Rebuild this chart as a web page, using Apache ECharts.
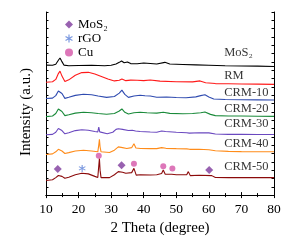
<!DOCTYPE html>
<html><head><meta charset="utf-8">
<script src="https://cdn.jsdelivr.net/npm/echarts@6/dist/echarts.min.js"></script>
<style>html,body{margin:0;padding:0;background:#fff}#c{width:290px;height:241px}</style>
</head><body><div id="c"></div>
<script>
const FONT = 'Liberation Serif';
const xTicks = [10, 20, 30, 40, 50, 60, 70, 80];
const yTitle = 'Intensity (a.u.)';
const seriesNames = ['MoS₂', 'RM', 'CRM-10', 'CRM-20', 'CRM-30', 'CRM-40', 'CRM-50'];
const seriesColors = ['#000000', '#ff1a1a', '#2f4bb0', '#1a8a3a', '#6a48bf', '#ff8c1a', '#8b0a0a'];

const mos2 = [[10,15.62],[12,15.6],[13,15.72],[13.8,16.2],[14.3,16.48],[14.8,16.1],[15.5,15.62],[17,15.55],[20,15.58],[24,15.6],[28,15.55],[30,15.6],[31.5,15.75],[32.5,15.95],[33.2,16.12],[34,15.9],[35,16.0],[36,15.8],[38,15.78],[40,15.88],[42,15.82],[44,15.75],[46.5,15.95],[48,15.75],[52,15.7],[56,15.65],[60,15.6],[65,15.55],[70,15.52],[75,15.5],[80,15.45]];
const rm = [[10,13.55],[12,13.62],[13,13.9],[13.8,14.6],[14.3,14.9],[14.9,14.3],[15.8,13.65],[17,13.85],[19,14.4],[21,14.72],[23,14.75],[25,14.55],[27,14.25],[29,13.95],[31,13.72],[32.5,13.8],[33.3,13.95],[34.5,13.75],[36,13.82],[38,13.8],[40,13.75],[42,13.83],[45,13.7],[50,13.62],[55,13.6],[57.3,13.72],[59,13.5],[62,13.4],[66,13.38],[70,13.35],[75,13.33],[80,13.3]];
const crm10 = [[10,11.6],[12,11.65],[13,11.95],[13.8,12.5],[14.3,12.72],[14.9,12.2],[15.8,11.62],[17,11.75],[19,11.98],[21.5,12.12],[24,12.05],[26,11.9],[28.6,11.74],[31,11.85],[32.5,12.25],[33.3,12.62],[34.2,12.1],[35.3,11.74],[37,11.9],[38.9,12.0],[40.4,11.93],[42,11.9],[44,11.75],[47,11.78],[50,11.72],[53,11.7],[56,11.8],[57.5,11.95],[58.8,12.05],[60,11.8],[61.5,11.55],[65,11.48],[70,11.45],[75,11.44],[80,11.42]];
const crm20 = [[10,9.43],[12,9.5],[13,9.8],[13.8,10.35],[14.3,10.55],[14.9,10.05],[15.8,9.55],[17,9.65],[19,9.85],[21.5,9.95],[24,9.9],[26,9.8],[28.6,9.72],[31,9.8],[32.5,10.1],[33.3,10.35],[34.2,9.95],[35.3,9.75],[37,9.9],[38.9,9.95],[41,9.9],[44,9.85],[46,9.95],[48,9.82],[52,9.78],[55,9.8],[57.5,9.9],[58.8,9.98],[60.5,9.7],[62,9.55],[66,9.5],[70,9.5],[75,9.48],[80,9.46]];
const crm30 = [[10,7.25],[12,7.3],[13,7.55],[13.8,8.0],[14.3,8.17],[14.9,7.75],[15.8,7.37],[17,7.5],[19,7.75],[21,7.85],[23,7.8],[25,7.65],[25.9,7.6],[26.2,8.17],[26.5,7.6],[28.8,7.37],[30.5,7.55],[31.5,7.9],[32.2,7.97],[33.5,7.9],[35.3,7.77],[36.5,7.8],[36.9,7.9],[37.5,7.7],[38.9,7.65],[42,7.58],[44,7.55],[45.5,7.7],[46,7.85],[46.7,7.65],[50,7.55],[53.2,7.5],[53.6,7.65],[54,7.45],[57,7.5],[60,7.48],[62,7.35],[66,7.3],[70,7.3],[75,7.29],[80,7.28]];
const crm40 = [[10,4.88],[12,4.95],[13,5.2],[13.8,5.5],[14.3,5.59],[14.9,5.3],[15.8,5.0],[17,5.1],[19,5.3],[21.5,5.39],[24,5.3],[25.9,5.2],[26.2,6.0],[26.4,6.7],[26.6,5.8],[26.9,5.2],[29.5,5.11],[31,5.4],[32.2,5.79],[33.5,5.7],[34.8,5.59],[36.3,5.7],[37,6.18],[37.6,5.65],[39,5.6],[42,5.59],[44,5.58],[45.5,5.7],[46,5.86],[46.8,5.62],[50,5.58],[53.2,5.55],[53.6,5.72],[54.1,5.5],[57,5.5],[60,5.45],[62,5.32],[66,5.25],[70,5.22],[75,5.21],[80,5.2]];
const crm50 = [[10,1.75],[12,1.85],[13,2.1],[13.8,2.35],[14.3,2.41],[14.9,2.25],[15.8,2.02],[17,2.15],[19,2.45],[21,2.62],[23,2.55],[25,2.25],[25.9,2.12],[26.2,3.5],[26.4,4.4],[26.6,3.0],[26.9,2.1],[29.5,2.1],[31,2.45],[32.2,2.82],[33.5,2.75],[34.5,2.62],[36.3,2.7],[37,3.21],[37.7,2.4],[39,2.45],[42,2.41],[44,2.45],[45.5,2.6],[46,3.01],[46.6,2.5],[48.6,2.5],[50,2.45],[53.2,2.45],[53.7,2.82],[54.3,2.34],[57,2.38],[60.9,2.34],[62,2.12],[66,2.1],[70,2.1],[75,2.1],[80,2.1]];
const curves = [mos2, rm, crm10, crm20, crm30, crm40, crm50];

// right-side curve labels: [x, y, text]
const curveLabels = [[64.7,17.05,'MoS₂'],[64.7,14.31,'RM'],[64.7,12.33,'CRM-10'],[64.7,10.35,'CRM-20'],[64.7,8.56,'CRM-30'],[64.7,6.18,'CRM-40'],[64.7,3.41,'CRM-50']];

// phase markers
const markerNames = ['MoS₂', 'rGO', 'Cu'];
const markerColors = ['#7e3a9c', '#5a7fd8', '#d455a8'];
const mos2Marks = [[13.6,3.13],[33.2,3.6],[60.1,3.01]];
const rgoMarks = [[21.1,3.21]];
const cuMarks = [[26.2,4.72],[37,3.77],[46,3.48],[48.8,3.21]];

const asterisk = 'path://M-1.5,-10L1.5,-10L1.5,10L-1.5,10ZM7.91,-6.3L9.41,-3.7L-7.91,6.3L-9.41,3.7ZM9.41,3.7L7.91,6.3L-9.41,-3.7L-7.91,-6.3Z';

const series = [];
curves.forEach((d, i) => series.push({
  name: seriesNames[i] + ' ', type: 'line', data: d, showSymbol: false, symbol: 'none',
  lineStyle: { color: seriesColors[i], width: 1.1 }, itemStyle: { color: seriesColors[i] },
  silent: true, z: 2
}));
series.push({ name: markerNames[0], type: 'scatter', data: mos2Marks, symbol: 'diamond', symbolSize: 8, itemStyle: { color: markerColors[0] }, z: 3 });
series.push({ name: markerNames[1], type: 'scatter', data: rgoMarks, symbol: asterisk, symbolSize: 7, itemStyle: { color: markerColors[1] }, z: 3 });
series.push({ name: markerNames[2], type: 'scatter', data: cuMarks, symbol: 'circle', symbolSize: 6, itemStyle: { color: markerColors[2] }, z: 3 });
series.push({
  name: 'labels', type: 'scatter', data: curveLabels, symbolSize: 0, silent: true,
  label: { show: true, position: 'right', distance: 0, formatter: p => p.value[2],
    fontFamily: FONT, fontSize: 12.5, color: '#000' }
});

const chart = echarts.init(document.getElementById('c'), null, { renderer: 'canvas' });
chart.setOption({
  animation: false,
  backgroundColor: '#fff',
  grid: { left: 46, right: 16, top: 12, bottom: 44 },
  graphic: [{
    type: 'text', x: 26, y: 112, rotation: Math.PI / 2, silent: true,
    style: { text: yTitle, fontFamily: FONT, fontSize: 15, fill: '#000', align: 'center', verticalAlign: 'middle' }
  }],
  legend: {
    data: markerNames.map(n => ({ name: n })), orient: 'vertical', left: 60, top: 13,
    itemWidth: 8, itemHeight: 8, itemGap: 1, itemStyle: { borderWidth: 0 },
    textStyle: { fontFamily: FONT, fontSize: 13, color: '#000' }, selectedMode: false
  },
  xAxis: [{
    type: 'value', min: 10, max: 80, interval: 10,
    name: '2 Theta (degree)', nameLocation: 'middle', nameGap: 21,
    nameTextStyle: { fontFamily: FONT, fontSize: 15, color: '#000' },
    axisLine: { show: true, lineStyle: { color: '#000', width: 1 } },
    axisTick: { show: true, inside: true, length: 3, lineStyle: { color: '#000' } },
    minorTick: { show: true, splitNumber: 2, length: 2, lineStyle: { color: '#000' } },
    axisLabel: { fontFamily: FONT, fontSize: 13.5, color: '#000', margin: 7,
      formatter: v => xTicks.includes(v) ? String(v) : '' },
    splitLine: { show: false }
  }, {
    type: 'value', position: 'top', min: 10, max: 80, interval: 10,
    axisLine: { show: true, lineStyle: { color: '#000', width: 1 } },
    axisTick: { show: true, inside: true, length: 3, lineStyle: { color: '#000' } },
    minorTick: { show: true, splitNumber: 2, length: 2, lineStyle: { color: '#000' } },
    axisLabel: { show: false }, splitLine: { show: false }
  }],
  yAxis: [{
    type: 'value', min: 0, max: 22, interval: 1,
    axisLine: { show: true, lineStyle: { color: '#000', width: 1 } },
    axisTick: { show: true, inside: true, length: 2.5, lineStyle: { color: '#000' } },
    axisLabel: { show: false }, splitLine: { show: false }
  }, {
    type: 'value', position: 'right', min: 0, max: 22, interval: 1,
    axisLine: { show: true, lineStyle: { color: '#000', width: 1 } },
    axisTick: { show: true, inside: true, length: 2.5, lineStyle: { color: '#000' } },
    axisLabel: { show: false }, splitLine: { show: false }
  }],
  series: series
});
</script></body></html>
